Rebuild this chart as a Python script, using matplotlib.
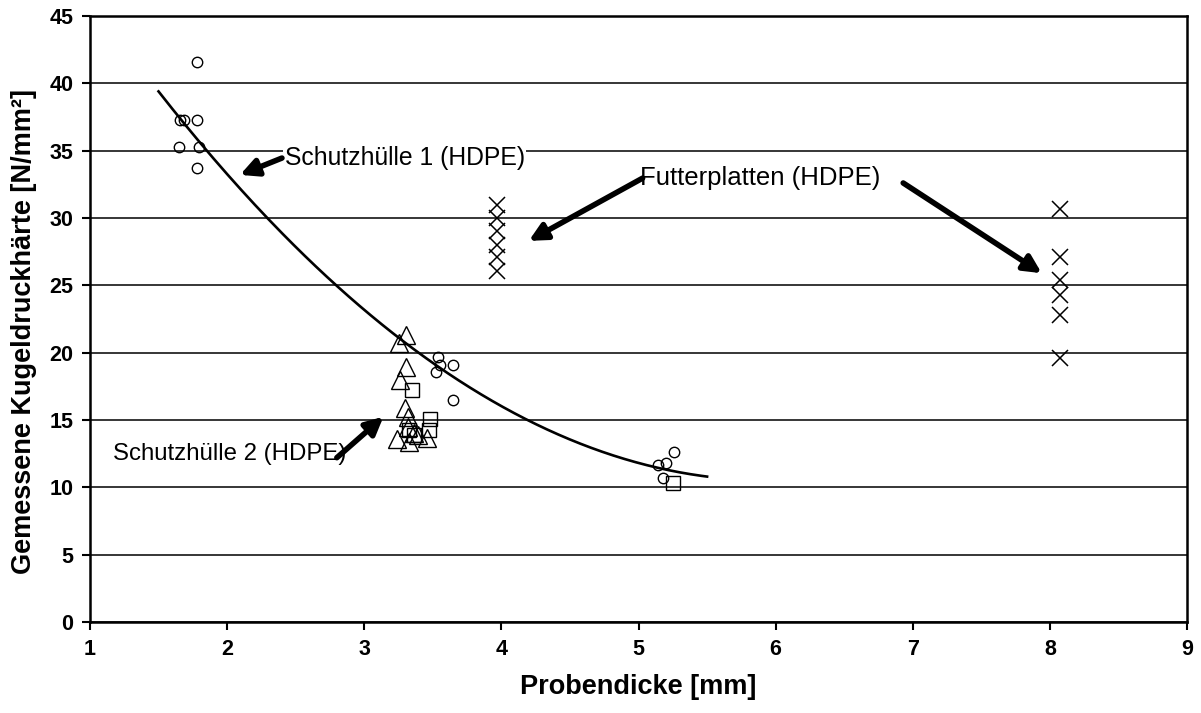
import numpy as np
import matplotlib
matplotlib.use('Agg')
import matplotlib.pyplot as plt

plt.rcParams['font.family'] = ['Liberation Sans', 'DejaVu Sans']

# Schutzhülle 1 (Kreise)
kreis_x = [1.78, 1.656, 1.686, 1.778, 1.651, 1.797, 1.778,
           3.54, 3.52, 3.65, 3.65, 3.55,
           5.26, 5.20, 5.14, 5.18]
kreis_y = [41.6, 37.3, 37.3, 37.3, 35.3, 35.3, 33.7,
           19.7, 18.6, 19.1, 16.5, 19.1,
           12.6, 11.8, 11.65, 10.7]

# Schutzhülle 2 (Dreiecke)
dreieck_x = [3.305, 3.25, 3.305, 3.26, 3.30, 3.32, 3.32, 3.24, 3.36, 3.33, 3.46, 3.39]
dreieck_y = [21.3, 20.7, 18.95, 18.0, 15.9, 15.2, 14.5, 13.6, 14.0, 13.4, 13.7, 13.9]

# Schutzhülle 2 (Quadrate)
quadrat_x = [3.35, 3.48, 3.47, 3.33, 3.36, 5.25]
quadrat_y = [17.2, 15.1, 14.25, 14.25, 13.9, 10.3]

# Futterplatten (Kreuze)
kreuz_x = [3.97] * 6 + [8.07] * 6
kreuz_y = [31.0, 30.0, 29.0, 28.0, 27.1, 26.1,
           30.7, 27.1, 25.4, 24.3, 22.8, 19.6]

# Trendlinie (Polynom 2. Grades)
trend_koeff = [1.465, -17.405, 62.21]
trend_bereich = [1.5, 5.5]

fig = plt.figure(figsize=(12.01, 7.13), dpi=100)
ax = fig.add_axes([0.0749, 0.1276, 0.9135, 0.85])

# Gitterlinien
for yv in range(0, 46, 5):
    ax.axhline(yv, color='black', lw=1.1, zorder=1)

xt = np.linspace(trend_bereich[0], trend_bereich[1], 200)
ax.plot(xt, np.polyval(trend_koeff, xt), color='black', lw=1.9, zorder=3)

ax.plot(kreis_x, kreis_y, 'o', ms=7.5, mfc='none', mec='black', mew=1.0, zorder=4)
ax.plot(dreieck_x, dreieck_y, '^', ms=13, mfc='none', mec='black', mew=1.0, zorder=4)
ax.plot(quadrat_x, quadrat_y, 's', ms=10, mfc='none', mec='black', mew=1.0, zorder=4)
ax.plot(kreuz_x, kreuz_y, 'x', ms=11, mfc='none', mec='black', mew=1.1, zorder=4)

ax.set_xlim(1, 9)
ax.set_ylim(0, 45)
ax.set_xticks(range(1, 10))
ax.set_yticks(range(0, 46, 5))
ax.tick_params(direction='out', length=6, width=1.5, pad=6, labelsize=15.5)
for lab in ax.get_xticklabels() + ax.get_yticklabels():
    lab.set_fontweight('bold')
for s in ax.spines.values():
    s.set_linewidth(1.8)
    s.set_color('black')

ax.set_xlabel('Probendicke [mm]', fontsize=19.5, fontweight='bold', labelpad=10)
ax.set_ylabel('Gemessene Kugeldruckhärte [N/mm²]', fontsize=19.5, fontweight='bold')
ax.yaxis.set_label_coords(-0.048, 0.48)

# Beschriftungen mit Pfeilen
pfeil = dict(arrowstyle='-|>', lw=4, color='black', mutation_scale=26, shrinkA=0, shrinkB=0)
box = dict(facecolor='white', edgecolor='none', pad=1)

ax.text(2.42, 34.45, 'Schutzhülle 1 (HDPE)', fontsize=17.8, va='center', ha='left', bbox=box, zorder=5)
ax.annotate('', xy=(2.094, 33.2), xytext=(2.40, 34.45), arrowprops=pfeil, zorder=5)

ax.text(5.01, 32.96, 'Futterplatten (HDPE)', fontsize=18.5, va='center', ha='left', bbox=box, zorder=5)
ax.annotate('', xy=(4.20, 28.3), xytext=(5.03, 32.96), arrowprops=pfeil, zorder=5)
ax.annotate('', xy=(7.94, 25.9), xytext=(6.93, 32.6), arrowprops=pfeil, zorder=5)

ax.text(1.168, 12.5, 'Schutzhülle 2 (HDPE)', fontsize=17.3, va='center', ha='left', bbox=box, zorder=5)
ax.annotate('', xy=(3.14, 15.24), xytext=(2.80, 12.2), arrowprops=pfeil, zorder=5)

fig.savefig('out.png', dpi=100)
